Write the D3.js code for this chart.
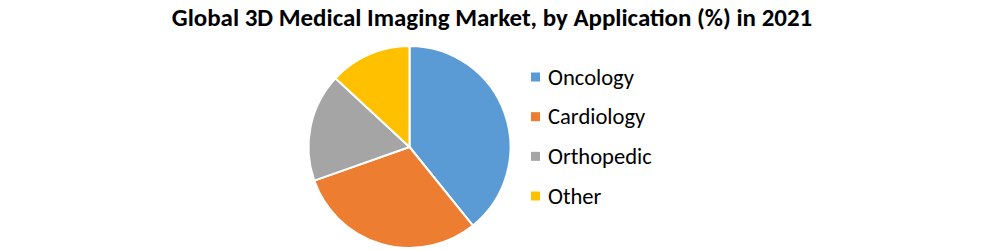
<!DOCTYPE html>
<html><head><meta charset="utf-8">
<script src="https://cdn.jsdelivr.net/npm/d3@7"></script>
<style>body{margin:0;background:#fff}svg{display:block}</style>
</head><body>
<svg id="c" width="994" height="250"></svg>
<script>
const title = "Global 3D Medical Imaging Market, by Application (%) in 2021";
const categories = ["Oncology", "Cardiology", "Orthopedic", "Other"];
const values = [39.2, 30.4, 17.3, 13.1];
const colors = ["#5B9BD5", "#ED7D31", "#A5A5A5", "#FFC000"];

const svg = d3.select("#c");
const font = "Carlito, Calibri, 'Open Sans', 'Liberation Sans', sans-serif";

const t = svg.append("text").attr("x", 492).attr("y", 26).attr("text-anchor", "middle")
  .attr("font-family", font).attr("font-weight", "bold").attr("font-size", 20)
  .attr("fill", "#000").text(title);
const w = t.node().getComputedTextLength();
t.attr("font-size", 20 * 641 / w);

const cx = 409.5, cy = 147, r = 101;
const pie = d3.pie().sort(null).value(d => d)(values);
const arc = d3.arc().innerRadius(0).outerRadius(r);
svg.append("g").attr("transform", `translate(${cx},${cy})`)
  .selectAll("path").data(pie).join("path")
  .attr("d", arc).attr("fill", (d, i) => colors[i])
  .attr("stroke", "#fff").attr("stroke-width", 2).attr("stroke-linejoin", "round");

const y = d3.scalePoint().domain(categories).range([77, 196]);
const lg = svg.append("g");
categories.forEach((c, i) => {
  lg.append("rect").attr("x", 531).attr("y", y(c) - 4.5).attr("width", 9).attr("height", 9).attr("fill", colors[i]);
  const tx = lg.append("text").attr("x", 548).attr("y", y(c)).attr("dominant-baseline", "central")
    .attr("font-family", font).attr("font-size", 19).attr("fill", "#000").text(c);
});
// scale legend font so "Oncology" ~86px wide
const first = lg.selectAll("text").nodes()[0];
const fw = first.getComputedTextLength();
lg.selectAll("text").attr("font-size", 19 * 86 / fw);
</script>
</body></html>
